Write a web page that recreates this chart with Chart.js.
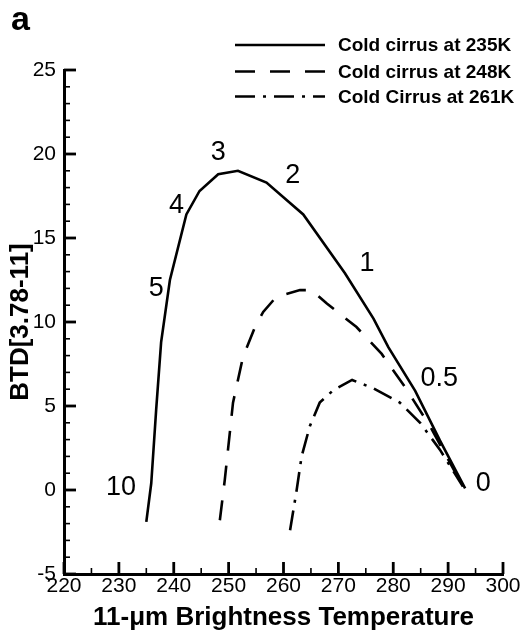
<!DOCTYPE html>
<html><head><meta charset="utf-8">
<script src="https://cdn.jsdelivr.net/npm/chart.js@4.4.0/dist/chart.umd.min.js"></script>
<style>html,body{margin:0;padding:0;background:#fff}#wrap{width:525px;height:630px}</style>
</head><body><div id="wrap"><canvas id="c" width="525" height="630"></canvas></div>
<script>
// ---- data ----
const seriesNames = ['Cold cirrus at 235K', 'Cold cirrus at 248K', 'Cold Cirrus at 261K'];

const temp235 = [235.0, 235.9, 236.8, 237.7, 239.3, 242.3, 244.7, 248.1, 251.7, 256.9, 263.6, 271.2, 276.4, 279.1, 284.0, 288.5, 293.1];
const btd235  = [-1.9, 0.4, 4.8, 8.8, 12.5, 16.4, 17.8, 18.8, 19.0, 18.3, 16.4, 12.9, 10.2, 8.5, 5.9, 2.95, 0.1];

const temp248 = [248.4, 249.3, 250.8, 252.6, 254.8, 256.3, 258.7, 263.0, 265.1, 267.9, 273.3, 277.9, 282.1, 286.7, 289.7, 292.7];
const btd248  = [-1.8, 0.6, 5.2, 7.9, 9.7, 10.6, 11.5, 11.9, 11.9, 11.1, 9.7, 8.1, 6.15, 3.8, 2.0, 0.2];

const temp261 = [261.2, 262.4, 263.3, 264.8, 266.6, 269.1, 272.5, 276.4, 281.2, 284.9, 288.5, 292.7];
const btd261  = [-2.4, 0.0, 2.0, 3.8, 5.2, 5.95, 6.55, 6.05, 5.2, 4.0, 2.4, 0.2];

const xTicks = [220, 230, 240, 250, 260, 270, 280, 290, 300];
const yTicks = [-5, 0, 5, 10, 15, 20, 25];

const noteText = ['10', '5', '4', '3', '2', '1', '0.5', '0'];
const noteTemp = [230.4, 236.8, 240.5, 248.1, 261.7, 275.2, 288.4, 296.4];
const noteBtd  = [0.16, 12.0, 16.95, 20.1, 18.7, 13.45, 6.65, 0.36];

// ---- chart ----
const FONT = "'Liberation Sans', Arial, Helvetica, sans-serif";
const toXY = (xs, ys) => xs.map((x, i) => ({x: x, y: ys[i]}));
const dashes = [[], [20, 15], [20, 8, 3, 8]];

const decor = {
  id: 'decor',
  afterDraw(chart) {
    const ctx = chart.ctx;
    const xs = chart.scales.x, ys = chart.scales.y;
    const ca = chart.chartArea;
    ctx.save();
    ctx.strokeStyle = '#000';
    ctx.lineCap = 'butt';
    // x ticks (inward)
    for (let i = 0; i < xTicks.length; i++) {
      const px = xs.getPixelForValue(xTicks[i]);
      ctx.lineWidth = 2.8;
      ctx.beginPath(); ctx.moveTo(px, ca.bottom); ctx.lineTo(px, ca.bottom - 12); ctx.stroke();
      if (i < xTicks.length - 1) {
        const pm = xs.getPixelForValue((xTicks[i] + xTicks[i + 1]) / 2);
        ctx.lineWidth = 1.6;
        ctx.beginPath(); ctx.moveTo(pm, ca.bottom); ctx.lineTo(pm, ca.bottom - 6); ctx.stroke();
      }
    }
    // y ticks (inward)
    for (let i = 0; i < yTicks.length; i++) {
      const py = ys.getPixelForValue(yTicks[i]);
      ctx.lineWidth = 2.8;
      ctx.beginPath(); ctx.moveTo(ca.left, py); ctx.lineTo(ca.left + 12, py); ctx.stroke();
      if (i < yTicks.length - 1) {
        for (let k = 1; k < 5; k++) {
          const v = yTicks[i] + k * (yTicks[i + 1] - yTicks[i]) / 5;
          const pm = ys.getPixelForValue(v);
          ctx.lineWidth = 1.6;
          ctx.beginPath(); ctx.moveTo(ca.left, pm); ctx.lineTo(ca.left + 6, pm); ctx.stroke();
        }
      }
    }
    // curve annotations
    ctx.fillStyle = '#000';
    ctx.font = '27px ' + FONT;
    ctx.textAlign = 'center';
    ctx.textBaseline = 'middle';
    for (let i = 0; i < noteText.length; i++) {
      ctx.fillText(noteText[i], xs.getPixelForValue(noteTemp[i]), ys.getPixelForValue(noteBtd[i]));
    }
    // panel letter
    ctx.font = 'bold 34px ' + FONT;
    ctx.textAlign = 'left';
    ctx.textBaseline = 'alphabetic';
    ctx.fillText('a', 11, 30);
    // legend
    const rows = [45, 71.5, 96.5];
    chart.data.datasets.forEach((ds, i) => {
      ctx.lineWidth = 2.6;
      ctx.setLineDash(ds.borderDash || []);
      ctx.beginPath(); ctx.moveTo(235, rows[i]); ctx.lineTo(325, rows[i]); ctx.stroke();
      ctx.setLineDash([]);
      ctx.font = 'bold 19px ' + FONT;
      ctx.textBaseline = 'middle';
      ctx.fillText(ds.label, 338, rows[i] + 1);
    });
    ctx.restore();
  }
};

const datasets = [toXY(temp235, btd235), toXY(temp248, btd248), toXY(temp261, btd261)].map((d, i) => ({
  label: seriesNames[i],
  data: d,
  showLine: true,
  borderColor: '#000',
  backgroundColor: '#000',
  borderWidth: 2.6,
  borderDash: dashes[i],
  pointRadius: 0,
  tension: 0,
  fill: false
}));

new Chart(document.getElementById('c'), {
  type: 'scatter',
  data: {datasets: datasets},
  options: {
    responsive: false,
    animation: false,
    layout: {padding: {top: 70, right: 22, left: 0, bottom: 0}},
    plugins: {legend: {display: false}, tooltip: {enabled: false}},
    scales: {
      x: {
        type: 'linear', min: 220, max: 300,
        afterBuildTicks: s => { s.ticks = xTicks.map(v => ({value: v})); },
        afterFit: s => { s.height = 56; },
        grid: {display: false, drawTicks: false},
        border: {display: true, width: 3, color: '#000'},
        ticks: {color: '#000', font: {family: FONT, size: 21}, padding: 0, maxRotation: 0, autoSkip: false},
        title: {display: true, text: '11-\u03bcm Brightness Temperature', color: '#000', font: {family: FONT, size: 26, weight: 'bold'}, padding: {top: 0, bottom: -3}}
      },
      y: {
        type: 'linear', min: -5, max: 25,
        afterBuildTicks: s => { s.ticks = yTicks.map(v => ({value: v})); },
        afterFit: s => { s.width = 64; },
        grid: {display: false, drawTicks: false},
        border: {display: true, width: 3, color: '#000'},
        ticks: {color: '#000', font: {family: FONT, size: 21}, padding: 8, autoSkip: false},
        title: {display: true, text: 'BTD[3.78-11]', color: '#000', font: {family: FONT, size: 26, weight: 'bold'}, padding: {top: 5, bottom: 0}}
      }
    }
  },
  plugins: [decor]
});
</script></body></html>
